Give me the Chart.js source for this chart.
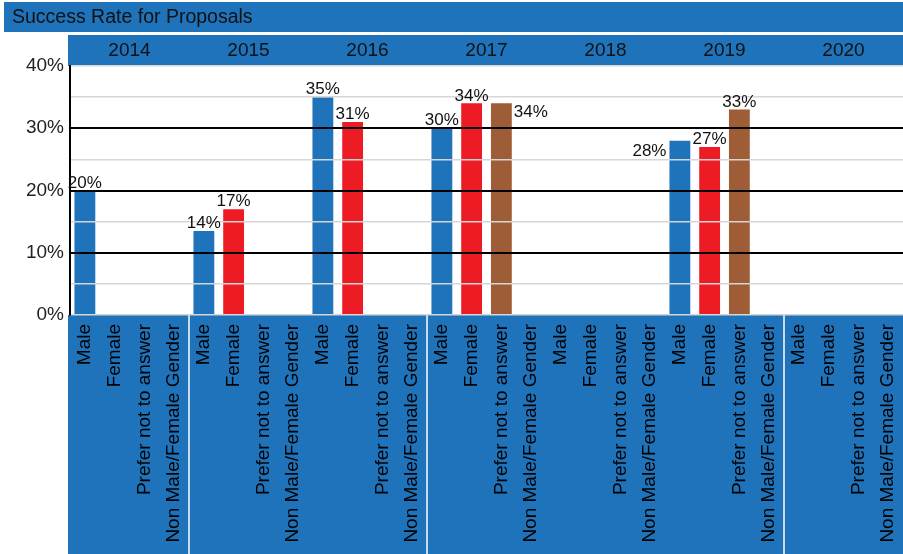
<!DOCTYPE html>
<html>
<head>
<meta charset="utf-8">
<script src="https://cdn.jsdelivr.net/npm/chart.js@4.4.1/dist/chart.umd.min.js"></script>
<style>
  html, body { margin: 0; padding: 0; background: #fff; }
  #wrap { width: 903px; height: 554px; }
</style>
</head>
<body>
<div id="wrap"><canvas id="rateChart"></canvas></div>
<script>
const title = 'Success Rate for Proposals';
const years = ['2014', '2015', '2016', '2017', '2018', '2019', '2020'];
const genders = ['Male', 'Female', 'Prefer not to answer', 'Non Male/Female Gender'];

// success rate (%) per year, one array per gender
const male      = [20, 13.5, 35, 30, null, 28, null];
const female    = [null, 17, 31, 34, null, 27, null];
const preferNot = [null, null, null, 34, null, 33, null];
const nonMF     = [null, null, null, null, null, null, null];

// where the value label sits next to each bar
const malePos      = ['top', 'top', 'top', 'top', null, 'left', null];
const femalePos    = [null, 'top', 'top', 'top', null, 'top', null];
const preferPos    = [null, null, null, 'right', null, 'top', null];
const nonMFPos     = [null, null, null, null, null, null, null];

const yTicks = [0, 10, 20, 30, 40];

const BLUE = '#1f73bb';
const RED = '#ed1c24';
const BROWN = '#9e5d37';
const genderColors = [BLUE, RED, BROWN, BLUE];
const FONT = '"Liberation Sans", Arial, Helvetica, sans-serif';

let labels = [], values = [], colors = [], spots = [];
const series = [male, female, preferNot, nonMF];
const seriesPos = [malePos, femalePos, preferPos, nonMFPos];
years.forEach((y, i) => {
    genders.forEach((g, j) => {
        labels.push(g);
        values.push(series[j][i]);
        colors.push(genderColors[j]);
        spots.push(seriesPos[j][i]);
    });
});

const bands = {
    id: 'bands',
    beforeDraw(chart) {
        const {ctx, scales} = chart;
        const w = chart.width, h = chart.height;
        ctx.save();
        ctx.fillStyle = '#fff';
        ctx.fillRect(0, 0, w, h);
        ctx.fillStyle = BLUE;
        ctx.fillRect(4, 2, w - 4, 30);
        ctx.fillRect(68, scales.x2.top, w - 68, scales.x2.bottom - scales.x2.top);
        ctx.fillRect(68, scales.x.top, w - 68, h - scales.x.top);
        ctx.fillStyle = '#111';
        ctx.font = '19.5px ' + FONT;
        ctx.textBaseline = 'middle';
        ctx.fillText(title, 12, 18);
        // white separators under some year groups
        ctx.strokeStyle = '#fff';
        ctx.lineWidth = 1.5;
        [4, 12, 24].forEach(i => {
            const xx = (scales.x.getPixelForValue(i - 1) + scales.x.getPixelForValue(i)) / 2;
            ctx.beginPath();
            ctx.moveTo(xx, scales.x.top);
            ctx.lineTo(xx, h);
            ctx.stroke();
        });
        ctx.restore();
    }
};

const valueLabels = {
    id: 'valueLabels',
    afterDraw(chart) {
        const {ctx} = chart;
        const meta = chart.getDatasetMeta(0);
        ctx.save();
        ctx.fillStyle = '#111';
        ctx.font = '17px ' + FONT;
        meta.data.forEach((bar, i) => {
            const v = values[i];
            if (v == null || !spots[i]) return;
            const txt = Math.round(v) + '%';
            const half = bar.width / 2;
            if (spots[i] === 'top') {
                ctx.textAlign = 'center';
                ctx.textBaseline = 'bottom';
                ctx.fillText(txt, bar.x, bar.y + 1);
            } else if (spots[i] === 'left') {
                ctx.textAlign = 'right';
                ctx.textBaseline = 'middle';
                ctx.fillText(txt, bar.x - half - 3, bar.y + 11);
            } else {
                ctx.textAlign = 'left';
                ctx.textBaseline = 'middle';
                ctx.fillText(txt, bar.x + half + 2, bar.y + 9);
            }
        });
        ctx.restore();
    }
};

let ctx1 = document.getElementById('rateChart').getContext('2d');
new Chart(ctx1, {
    type: 'bar',
    data: {
        labels: labels,
        datasets: [{
            data: values,
            backgroundColor: colors,
            borderWidth: 0,
            barPercentage: 0.7,
            categoryPercentage: 1
        }]
    },
    options: {
        responsive: true,
        maintainAspectRatio: false,
        animation: false,
        layout: { autoPadding: false, padding: { top: 35, left: 0, right: 0, bottom: 0 } },
        plugins: { legend: { display: false }, tooltip: { enabled: false } },
        scales: {
            x: {
                position: 'bottom',
                grid: { display: false, drawTicks: false },
                border: { display: false },
                ticks: {
                    autoSkip: false,
                    minRotation: 90,
                    maxRotation: 90,
                    padding: 9,
                    color: '#000',
                    font: { family: FONT, size: 19 }
                },
                afterFit(scale) {
                    scale.height = 239;
                    scale.paddingLeft = 0;
                    scale.paddingRight = 0;
                }
            },
            x2: {
                type: 'category',
                labels: years,
                position: 'top',
                grid: { display: false, drawTicks: false },
                border: { display: false },
                ticks: { color: '#111', padding: 4, font: { family: FONT, size: 19 } },
                afterFit(scale) {
                    scale.height = 31;
                    scale.paddingLeft = 0;
                    scale.paddingRight = 0;
                }
            },
            y: {
                min: 0,
                max: 40,
                afterBuildTicks(scale) {
                    let t = [];
                    for (let v = 0; v <= 40; v += 5) t.push({ value: v });
                    scale.ticks = t;
                },
                border: { display: true, color: '#000', width: 2, z: 2 },
                grid: {
                    z: 1,
                    drawTicks: false,
                    color: c => (c.tick.value % 10 === 0 && c.tick.value > 0 && c.tick.value < 40) ? '#000' : '#d6d6d6',
                    lineWidth: c => (c.tick.value % 10 === 0 && c.tick.value > 0 && c.tick.value < 40) ? 2 : 1.5
                },
                ticks: {
                    padding: 6,
                    color: '#222',
                    font: { family: FONT, size: 19 },
                    callback: v => yTicks.includes(v) ? v + '%' : ''
                },
                afterFit(scale) { scale.width = 70; }
            }
        }
    },
    plugins: [bands, valueLabels]
});
</script>
</body>
</html>
